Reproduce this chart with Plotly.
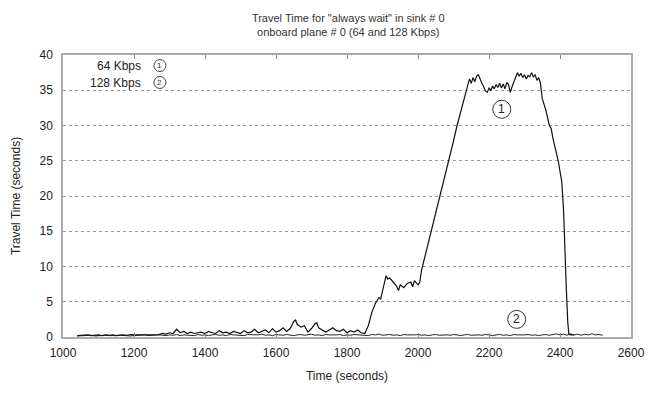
import plotly.graph_objects as go

# Series 1: 64 Kbps (time, travel time)
t1 = [1040, 1050, 1060, 1070, 1080, 1090, 1100, 1110, 1120, 1130, 1140, 1150, 1160, 1170, 1180, 1190,
      1200, 1210, 1220, 1230, 1240, 1250, 1260, 1270, 1280, 1290, 1300, 1310, 1320, 1330, 1340, 1350,
      1360, 1370, 1380, 1390, 1400, 1410, 1420, 1430, 1440, 1450, 1460, 1470, 1480, 1490, 1500, 1510,
      1520, 1530, 1540, 1550, 1560, 1570, 1580, 1590, 1600, 1610, 1620, 1630, 1640, 1650, 1655, 1660,
      1670, 1680, 1690, 1700, 1710, 1715, 1720, 1730, 1740, 1750, 1760, 1770, 1780, 1790, 1800, 1810,
      1820, 1830, 1840, 1850, 1860, 1870, 1880, 1890, 1895, 1900, 1910, 1915, 1920, 1930, 1940, 1945,
      1950, 1960, 1970, 1980, 1985, 1990, 2000, 2005, 2010, 2020, 2030, 2040, 2050, 2060, 2070, 2080,
      2090, 2100, 2110, 2120, 2130, 2140, 2145, 2150, 2155, 2160, 2165, 2170, 2175, 2180, 2185, 2190,
      2195, 2200, 2205, 2210, 2215, 2220, 2225, 2230, 2235, 2240, 2245, 2250, 2255, 2260, 2265, 2270,
      2275, 2280, 2285, 2290, 2295, 2300, 2305, 2310, 2315, 2320, 2325, 2330, 2335, 2340, 2345, 2350,
      2355, 2360, 2370, 2375, 2380, 2390, 2395, 2400, 2405, 2410, 2413, 2418, 2422, 2425, 2430, 2440]
v1 = [0.2, 0.25, 0.2, 0.3, 0.2, 0.25, 0.3, 0.2, 0.3, 0.25, 0.3, 0.2, 0.3, 0.3, 0.25, 0.35,
      0.3, 0.3, 0.4, 0.3, 0.35, 0.3, 0.4, 0.35, 0.5, 0.4, 0.6, 0.5, 1.1, 0.6, 0.8, 0.5,
      0.7, 0.5, 0.6, 0.7, 0.5, 0.8, 0.6, 0.5, 0.9, 0.6, 0.7, 0.5, 0.8, 0.6, 0.5, 0.9,
      0.6, 0.7, 1.1, 0.6, 0.8, 1.0, 0.6, 1.2, 0.7, 0.9, 1.3, 0.8, 1.2, 2.2, 2.4, 1.8,
      1.4, 1.6, 0.7, 1.2, 1.9, 2.0, 1.3, 1.0, 0.7, 1.0, 1.3, 0.9, 0.8, 1.1, 0.6, 0.9,
      0.7, 1.0, 0.6, 0.5, 1.6, 3.5, 4.8, 5.6, 5.4, 6.5, 8.7, 8.2, 8.4, 7.8, 7.2, 6.6,
      7.4, 7.0, 7.6, 7.8, 7.1, 8.0, 7.4, 7.8, 9.5, 11.5, 13.5, 15.5, 17.5, 19.5, 21.8, 23.8,
      25.8, 27.8, 30.0, 32.0, 34.0, 35.8, 36.6, 36.0, 36.8, 36.2, 37.0, 37.2, 36.5, 36.0, 35.5, 34.9,
      34.7, 35.3, 35.0, 35.6, 35.2, 35.8, 35.4, 36.0, 35.3, 35.9, 35.2, 36.1, 35.8, 34.7, 35.5, 36.2,
      36.8, 37.5, 37.0, 37.4, 36.8, 37.2, 36.6, 37.1, 36.9, 37.5, 36.9, 37.2, 36.4, 36.8, 36.0, 33.8,
      33.0, 32.2, 30.0, 29.6, 28.2, 26.2, 25.0, 23.5, 22.0, 18.0, 12.5, 6.6, 2.0, 0.4, 0.3, 0.3]

# Series 2: 128 Kbps
t2 = list(range(1040, 2550, 10))
v2 = [0.15, 0.2, 0.15, 0.2, 0.25, 0.15, 0.2, 0.2, 0.25, 0.2, 0.15, 0.2, 0.25, 0.2, 0.2, 0.15,
      0.2, 0.25, 0.2, 0.3, 0.2, 0.25, 0.2, 0.3, 0.25, 0.2, 0.3, 0.25, 0.35, 0.2, 0.3, 0.25,
      0.3, 0.2, 0.35, 0.25, 0.3, 0.2, 0.3, 0.35, 0.25, 0.3, 0.2, 0.35, 0.3, 0.25, 0.3, 0.2,
      0.35, 0.3, 0.25, 0.3, 0.4, 0.25, 0.3, 0.2, 0.35, 0.3, 0.25, 0.35, 0.3, 0.2, 0.3, 0.35,
      0.25, 0.3, 0.4, 0.25, 0.3, 0.2, 0.35, 0.3, 0.25, 0.3, 0.35, 0.2, 0.3, 0.25, 0.35, 0.3,
      0.25, 0.3, 0.2, 0.35, 0.3, 0.4, 0.25, 0.3, 0.35, 0.25, 0.3, 0.2, 0.35, 0.3, 0.25, 0.3,
      0.35, 0.25, 0.3, 0.2, 0.3, 0.35, 0.25, 0.3, 0.3, 0.25, 0.35, 0.3, 0.2, 0.3, 0.35, 0.25,
      0.3, 0.3, 0.25, 0.35, 0.3, 0.2, 0.3, 0.35, 0.25, 0.3, 0.2, 0.35, 0.3, 0.25, 0.3, 0.35,
      0.25, 0.3, 0.2, 0.3, 0.35, 0.25, 0.3, 0.45, 0.3, 0.4, 0.25, 0.45, 0.3, 0.4, 0.25, 0.4,
      0.3, 0.45, 0.3, 0.35, 0.25]

x_ticks = [1000, 1200, 1400, 1600, 1800, 2000, 2200, 2400, 2600]
y_ticks = [0, 5, 10, 15, 20, 25, 30, 35, 40]
series_names = ["64 Kbps", "128 Kbps"]
series_marks = ["1", "2"]
curve_labels = [(2236, 32.3), (2278, 2.5)]   # positions of circled labels
legend_x = (1225, 1273)
legend_y = [38.5, 36.1]

FONT = "Liberation Sans, Arial, sans-serif"

fig = go.Figure()
fig.add_trace(go.Scatter(x=t2, y=v2, mode="lines", name=series_names[1],
                         line=dict(color="#222", width=1)))
fig.add_trace(go.Scatter(x=t1, y=v1, mode="lines", name=series_names[0],
                         line=dict(color="#111", width=1.2)))

# circled labels on curves
for (cx, cy), mark in zip(curve_labels, series_marks):
    fig.add_shape(type="circle", xref="x", yref="y", xsizemode="pixel", ysizemode="pixel",
                  xanchor=cx, yanchor=cy, x0=-9, x1=9, y0=-9, y1=9,
                  line=dict(color="#333", width=1), layer="above")
    fig.add_annotation(x=cx, y=cy, text=mark, showarrow=False,
                       font=dict(family=FONT, size=12, color="#222"))

# legend
for name, mark, ly in zip(series_names, series_marks, legend_y):
    fig.add_annotation(x=legend_x[0], y=ly, text=name, showarrow=False, xanchor="right",
                       font=dict(family=FONT, size=12, color="#222"))
    fig.add_shape(type="circle", xref="x", yref="y", xsizemode="pixel", ysizemode="pixel",
                  xanchor=legend_x[1], yanchor=ly, x0=-6, x1=6, y0=-6, y1=6,
                  line=dict(color="#444", width=1), layer="above")
    fig.add_annotation(x=legend_x[1], y=ly, text=mark, showarrow=False,
                       font=dict(family=FONT, size=8, color="#333"))

fig.update_layout(
    width=657, height=393,
    margin=dict(l=63, r=25, t=55, b=53),
    paper_bgcolor="white", plot_bgcolor="white",
    showlegend=False,
    title=dict(text='Travel Time for "always wait" in sink # 0<br>onboard plane # 0 (64 and 128 Kbps)',
               x=0.53, xanchor="center", y=0.945, yanchor="middle",
               font=dict(family=FONT, size=11, color="#333")),
    font=dict(family=FONT, size=12, color="#222"),
)
fig.update_xaxes(range=[1000, 2600], tickvals=x_ticks, ticktext=[str(v) for v in x_ticks],
                 showgrid=False, zeroline=False, showline=True, linecolor="#aaa", linewidth=1.5,
                 mirror="ticks", ticks="inside", ticklen=4, tickcolor="#888", ticklabelstandoff=4,
                 title=dict(text="Time (seconds)", font=dict(size=12, color="#222"), standoff=12),
                 tickfont=dict(size=12, color="#222"))
fig.update_yaxes(range=[0, 40], tickvals=y_ticks, ticktext=[str(v) for v in y_ticks],
                 showgrid=True, gridcolor="#999", griddash="dot", gridwidth=1,
                 zeroline=False, showline=True, linecolor="#aaa", linewidth=1.5,
                 mirror=True, ticks="", ticklabelstandoff=6,
                 title=dict(text="Travel Time (seconds)", font=dict(size=12, color="#222"), standoff=16),
                 tickfont=dict(size=12, color="#222"))

fig.write_html("out.html")
